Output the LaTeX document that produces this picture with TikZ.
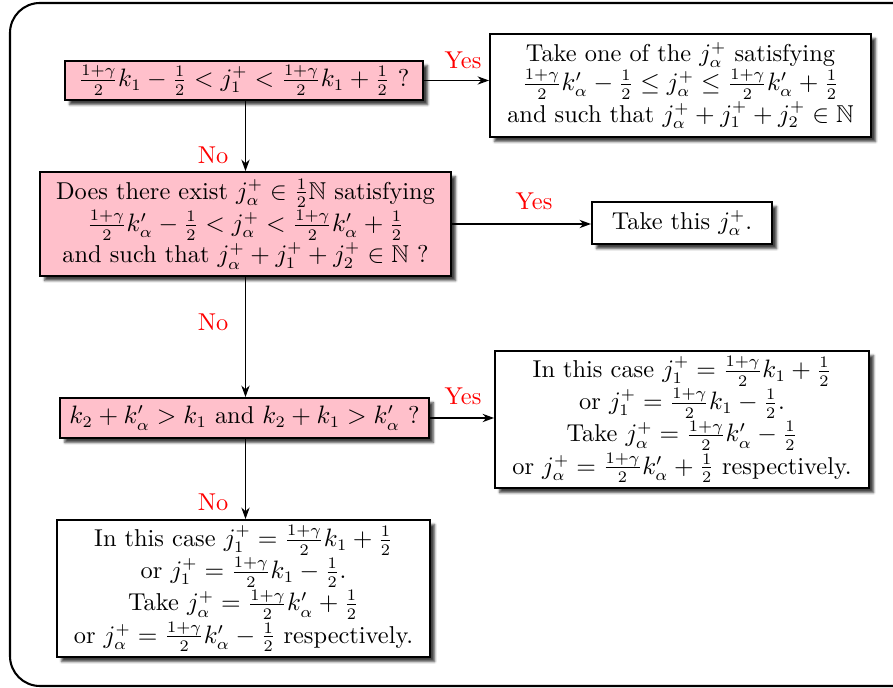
\documentclass[tikz,border=0pt]{standalone}
\usepackage{amsmath,amssymb}
\usetikzlibrary{shadows.blur,arrows.meta}
\definecolor{boxpink}{RGB}{255,192,203}
\begin{document}
\begin{tikzpicture}[x=0.4348pt,y=-0.4348pt,
  base/.style={draw, thick, align=center, inner xsep=4pt, inner ysep=1.5pt,
    font=\fontsize{10.6}{12.7}\selectfont,
    blur shadow={shadow xshift=2pt, shadow yshift=-2pt, shadow blur steps=4, shadow blur radius=1pt, shadow opacity=75}},
  qbox/.style={base, fill=boxpink},
  abox/.style={base, fill=white},
  arr/.style={line width=0.6pt, -{Stealth[length=5pt,width=3.6pt]}},
  lab/.style={text=red, font=\fontsize{10.6}{12.7}\selectfont}]
\useasboundingbox (0,0) rectangle (893,688);
\draw[line width=0.9pt, rounded corners=13pt] (10,3) rectangle (925,686);

\node[qbox, minimum width=155.7pt, minimum height=17pt] (q1) at (244,80.5) {$\frac{1+\gamma}{2}k_1-\frac12<j_1^+<\frac{1+\gamma}{2}k_1+\frac12$ ?};
\node[abox, minimum width=165.7pt, minimum height=44.8pt] (a1) at (680.5,85.5) {Take one of the $j_\alpha^+$ satisfying\\ $\frac{1+\gamma}{2}k'_\alpha-\frac12\le j_\alpha^+\le\frac{1+\gamma}{2}k'_\alpha+\frac12$\\ and such that $j_\alpha^++j_1^++j_2^+\in\mathbb{N}$};
\node[qbox, minimum width=178.7pt, minimum height=45.2pt] (q2) at (245.5,224) {Does there exist $j_\alpha^+\in\frac12\mathbb{N}$ satisfying\\ $\frac{1+\gamma}{2}k'_\alpha-\frac12<j_\alpha^+<\frac{1+\gamma}{2}k'_\alpha+\frac12$\\ and such that $j_\alpha^++j_1^++j_2^+\in\mathbb{N}$ ?};
\node[abox, minimum width=78.3pt, minimum height=18.3pt] (a2) at (682,223) {Take this $j_\alpha^+$.};
\node[qbox, minimum width=159.6pt, minimum height=17.4pt] (q3) at (244.5,418) {$k_2+k'_\alpha>k_1$ and $k_2+k_1>k'_\alpha$ ?};
\node[abox, minimum width=162.6pt, minimum height=59.6pt] (a3) at (682,419.5) {In this case $j_1^+=\frac{1+\gamma}{2}k_1+\frac12$\\ or $j_1^+=\frac{1+\gamma}{2}k_1-\frac12$.\\ Take $j_\alpha^+=\frac{1+\gamma}{2}k'_\alpha-\frac12$\\ or $j_\alpha^+=\frac{1+\gamma}{2}k'_\alpha+\frac12$ respectively.};
\node[abox, minimum width=162.2pt, minimum height=59.6pt] (a4) at (243.5,588.5) {In this case $j_1^+=\frac{1+\gamma}{2}k_1+\frac12$\\ or $j_1^+=\frac{1+\gamma}{2}k_1-\frac12$.\\ Take $j_\alpha^+=\frac{1+\gamma}{2}k'_\alpha+\frac12$\\ or $j_\alpha^+=\frac{1+\gamma}{2}k'_\alpha-\frac12$ respectively.};

\draw[arr] (q1.south -| q2.north) -- (q2.north);
\draw[arr] (q2.south) -- (q3.north -| q2.south);
\draw[arr] (q3.south -| q2.south) -- (a4.north -| q2.south);
\draw[arr] (q1.east) -- (q1.east -| a1.west);
\draw[arr] (q2.east) -- (q2.east -| a2.west);
\draw[arr] (q3.east) -- (q3.east -| a3.west);

\node[lab] (no1) at (213,155) {No};
\node[lab] (no2) at (213,322) {No};
\node[lab] (no3) at (213,502) {No};
\node[lab] (yes1) at (463,60) {Yes};
\node[lab] (yes2) at (534,201) {Yes};
\node[lab] (yes3) at (463,396) {Yes};
\end{tikzpicture}
\end{document}
